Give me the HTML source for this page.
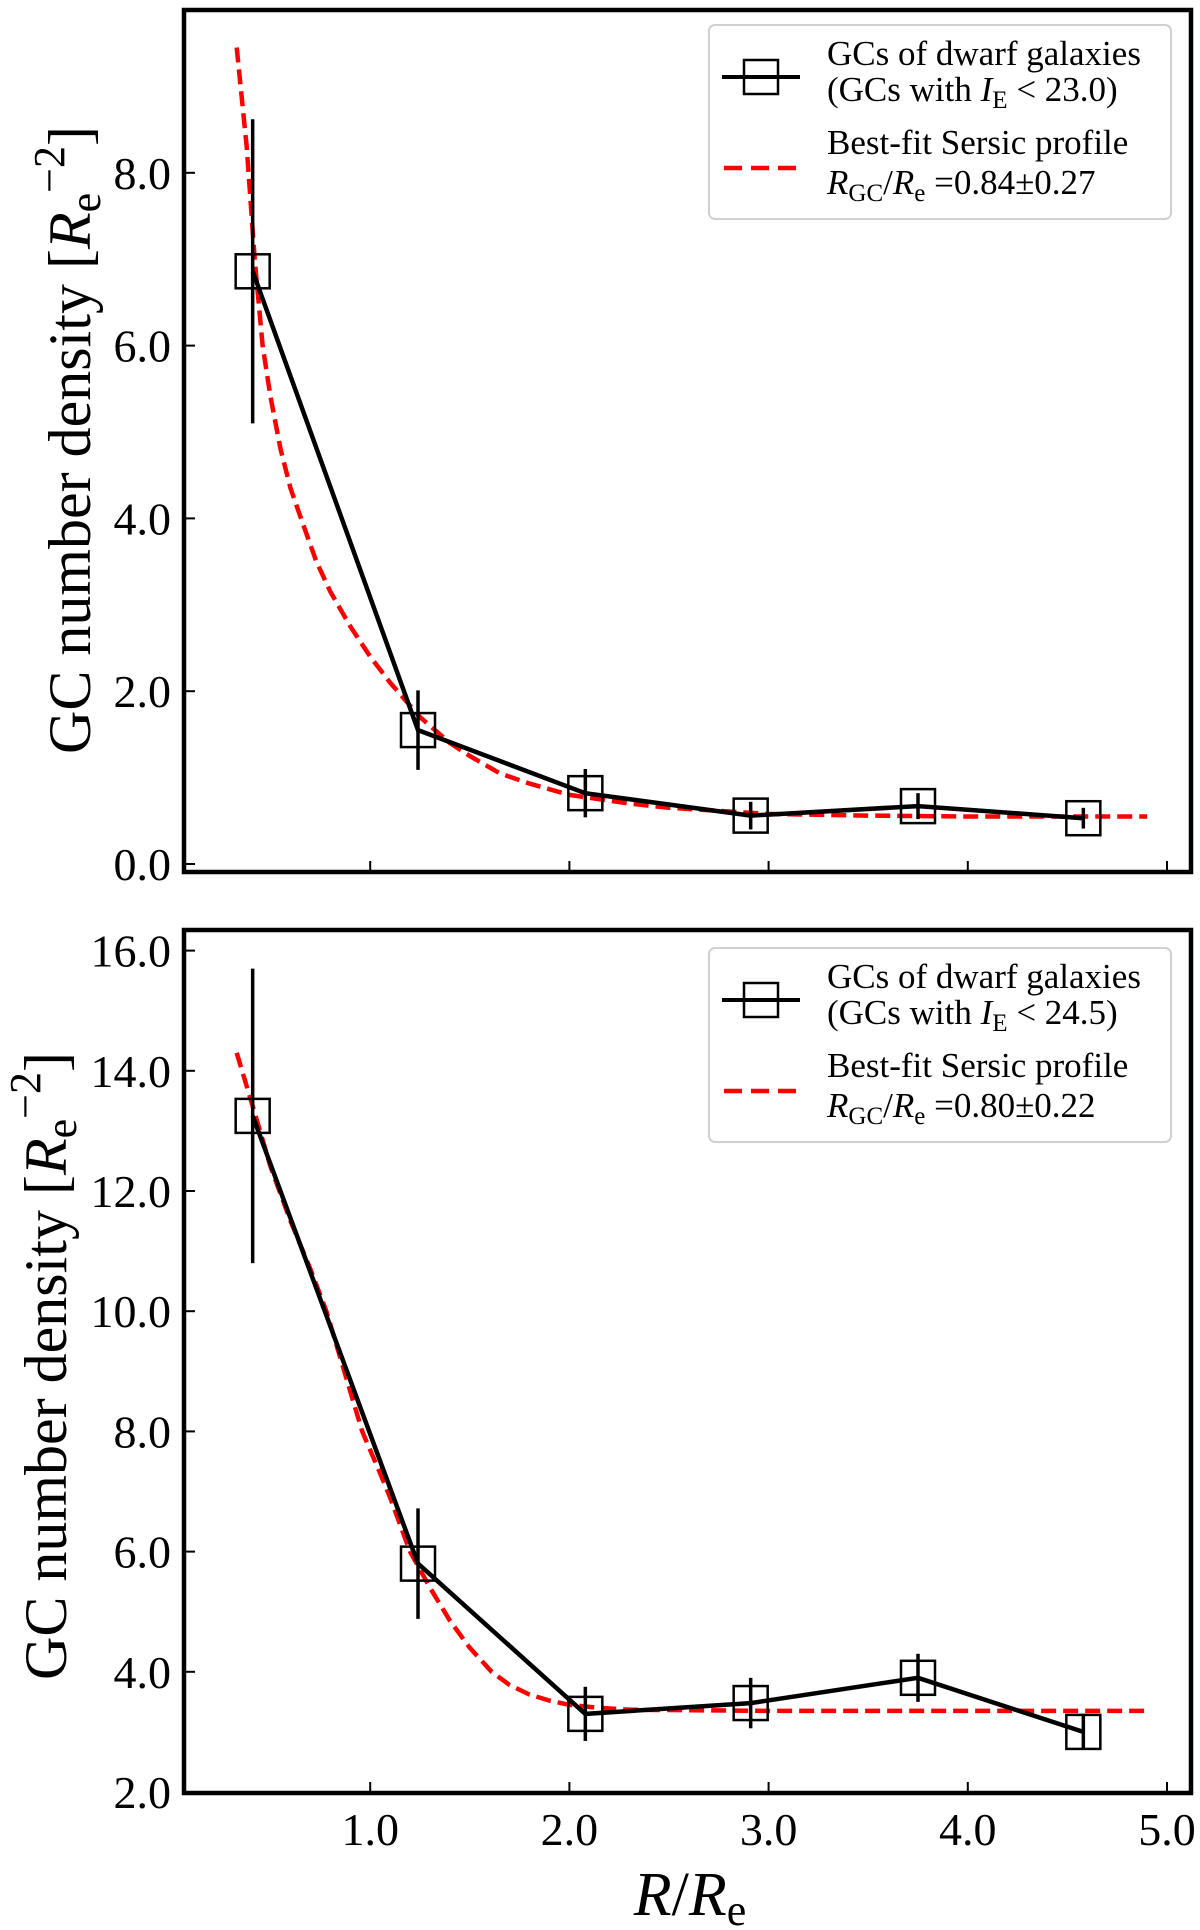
<!DOCTYPE html>
<html><head><meta charset="utf-8"><style>
body{margin:0;background:#fff;}
svg{display:block;font-family:"Liberation Serif","DejaVu Serif",serif;}
</style></head><body>
<svg id="fig" width="1200" height="1930" viewBox="0 0 1200 1930" xmlns="http://www.w3.org/2000/svg">
<g id="top"></g>
<g id="bot"></g>
<text x="690" y="1915" font-size="62" text-anchor="middle"><tspan font-style="italic">R</tspan>/<tspan font-style="italic">R</tspan><tspan font-size="44" dy="10">e</tspan></text>
</svg>
<script>
const xVals = [0.41, 1.24, 2.08, 2.91, 3.75, 4.58];
const topY = [6.86, 1.55, 0.82, 0.56, 0.67, 0.53];
const topErr = [1.76, 0.46, 0.28, 0.16, 0.15, 0.12];
const topFitX = [0.33, 0.38, 0.42, 0.46, 0.5, 0.55, 0.6, 0.66, 0.73, 0.8, 0.9, 1.0, 1.1, 1.25, 1.4, 1.5, 1.65, 1.8, 2.0, 2.3, 2.5, 3.0, 3.5, 4.0, 4.9];
const topFitY = [9.45, 8.3, 7.0, 6.0, 5.4, 4.8, 4.35, 3.95, 3.5, 3.15, 2.75, 2.4, 2.1, 1.7, 1.4, 1.25, 1.05, 0.93, 0.8, 0.7, 0.65, 0.58, 0.56, 0.55, 0.55];
const topTicks = ["0.0", "2.0", "4.0", "6.0", "8.0"];
const botY = [13.25, 5.8, 3.3, 3.48, 3.9, 3.0];
const botErr = [2.45, 0.92, 0.45, 0.42, 0.4, 0.3];
const botFitX = [0.33, 0.42, 0.5, 0.6, 0.7, 0.78, 0.87, 0.96, 1.05, 1.1, 1.2, 1.3, 1.4, 1.5, 1.61, 1.7, 1.8, 1.9, 2.0, 2.15, 2.3, 3.0, 4.9];
const botFitY = [14.3, 13.3, 12.4, 11.5, 10.7, 10.0, 9.0, 8.0, 7.3, 6.9, 6.0, 5.4, 4.85, 4.4, 4.0, 3.78, 3.62, 3.52, 3.45, 3.4, 3.37, 3.35, 3.35];
const botTicks = ["2.0", "4.0", "6.0", "8.0", "10.0", "12.0", "14.0", "16.0"];
const xTicks = ["1.0", "2.0", "3.0", "4.0", "5.0"];

const NS = "http://www.w3.org/2000/svg";
function mk(parent, tag, attrs, text){
  const e = document.createElementNS(NS, tag);
  for (const k in attrs) e.setAttribute(k, attrs[k]);
  if (text !== undefined) e.textContent = text;
  parent.appendChild(e);
  return e;
}
const L = 184, R = 1191;
const sx = v => 171 + v * 199.2;

function panel(g, o){
  const sy = v => o.y0 - (v - o.base) * o.unit;
  o.ticks.forEach(t => {
    const y = sy(parseFloat(t));
    const tk = mk(g, "line", {x1: L, x2: L + 11, y1: y, y2: y, stroke: "#000", "stroke-width": 2});
    
    
    const lb = mk(g, "text", {x: 171, y: y + 16, "font-size": 46, "text-anchor": "end"}, t);
    
    
  });
  xTicks.forEach(t => {
    const x = sx(parseFloat(t));
    const tk = mk(g, "line", {x1: x, x2: x, y1: o.bottom, y2: o.bottom - 11, stroke: "#000", "stroke-width": 2});
    
    
    if (o.xlabels) {
      const lb = mk(g, "text", {x: x, y: 1845, "font-size": 46, "text-anchor": "middle"}, t);
      
      
    }
  });
  const fp = o.fx.map((x, i) => sx(x).toFixed(1) + "," + sy(o.fy[i]).toFixed(1)).join(" ");
  const fit = mk(g, "polyline", {points: fp, fill: "none", stroke: "#ff0000", "stroke-width": 4.5, "stroke-dasharray": "15 7", "stroke-linejoin": "round"});
  
  
  xVals.forEach((x, i) => {
    const eb = mk(g, "line", {x1: sx(x), x2: sx(x), y1: sy(o.y[i] + o.err[i]), y2: sy(o.y[i] - o.err[i]), stroke: "#000", "stroke-width": 3.5});
    
    
  });
  const dp = xVals.map((x, i) => sx(x).toFixed(1) + "," + sy(o.y[i]).toFixed(1)).join(" ");
  const ln = mk(g, "polyline", {points: dp, fill: "none", stroke: "#000", "stroke-width": 4.5});
  
  
  xVals.forEach((x, i) => {
    const m = mk(g, "rect", {x: sx(x) - 17, y: sy(o.y[i]) - 17, width: 34, height: 34, fill: "none", stroke: "#000", "stroke-width": 2.5});
    
    
  });
  const fr = mk(g, "rect", {x: L, y: o.top, width: R - L, height: o.bottom - o.top, fill: "none", stroke: "#000", "stroke-width": 4.5});
  
  
  const yl = mk(g, "text", {transform: `translate(${o.ylx},${o.ylc}) rotate(-90)`, "font-size": 60, "text-anchor": "middle"});
  
  
  yl.innerHTML = 'GC number density [<tspan font-style="italic">R</tspan><tspan font-size="44" dy="10">e</tspan><tspan font-size="44" dy="-36">\u22122</tspan><tspan dy="26">]</tspan>';
  const ly = o.legTop;
  const lg = mk(g, "g", {});
  
  
  mk(lg, "rect", {x: 709, y: ly, width: 462, height: 194, rx: 6, fill: "#fff", stroke: "#d0d0d0", "stroke-width": 2});
  const e1 = mk(lg, "g", {});
  
  
  mk(e1, "line", {x1: 722, x2: 800, y1: ly + 52, y2: ly + 52, stroke: "#000", "stroke-width": 4});
  mk(e1, "rect", {x: 744, y: ly + 35, width: 34, height: 34, fill: "none", stroke: "#000", "stroke-width": 2.5});
  mk(e1, "text", {x: 827, y: ly + 40, "font-size": 35}, "GCs of dwarf galaxies");
  const t2 = mk(e1, "text", {x: 827, y: ly + 76, "font-size": 35});
  t2.innerHTML = '(GCs with <tspan font-style="italic">I</tspan><tspan font-size="25" dy="7">E</tspan><tspan dy="-7"> &lt; ' + o.mag + ')</tspan>';
  const e2 = mk(lg, "g", {});
  
  
  mk(e2, "line", {x1: 724, x2: 798, y1: ly + 143, y2: ly + 143, stroke: "#ff0000", "stroke-width": 4.5, "stroke-dasharray": "18 9"});
  mk(e2, "text", {x: 827, y: ly + 129, "font-size": 35}, "Best-fit Sersic profile");
  const t4 = mk(e2, "text", {x: 827, y: ly + 169, "font-size": 35});
  t4.innerHTML = '<tspan font-style="italic">R</tspan><tspan font-size="25" dy="7">GC</tspan><tspan dy="-7">/</tspan><tspan font-style="italic">R</tspan><tspan font-size="25" dy="7">e</tspan><tspan dy="-7"> =' + o.rgc + '</tspan>';
}

panel(document.getElementById("top"), {y0: 864, base: 0, unit: 86.4, top: 10, bottom: 872, ticks: topTicks, fx: topFitX, fy: topFitY, y: topY, err: topErr, xlabels: false, ylx: 90, ylc: 440, legTop: 25, mag: "23.0", rgc: "0.84\u00b10.27"});
panel(document.getElementById("bot"), {y0: 1792, base: 2, unit: 60.1, top: 930, bottom: 1793, ticks: botTicks, fx: botFitX, fy: botFitY, y: botY, err: botErr, xlabels: true, ylx: 66, ylc: 1366, legTop: 948, mag: "24.5", rgc: "0.80\u00b10.22"});
</script>
</body></html>
